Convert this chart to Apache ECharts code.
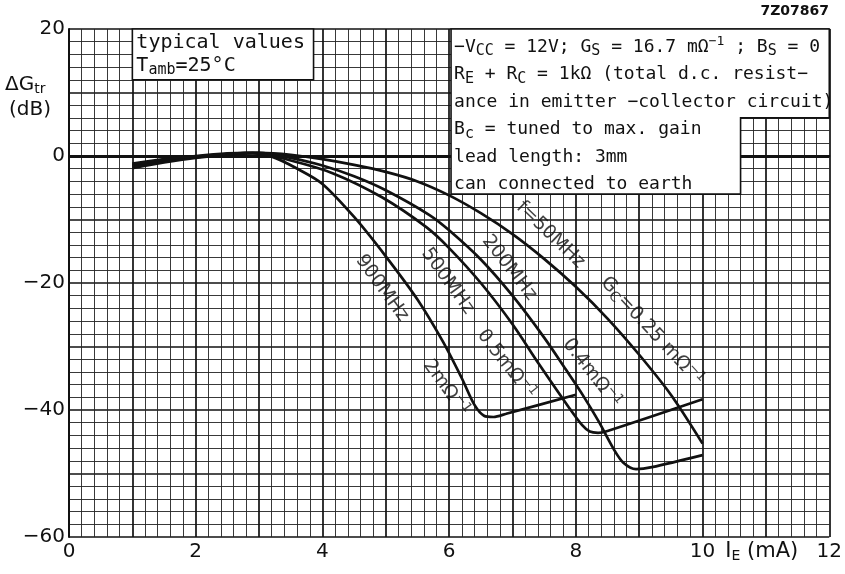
<!DOCTYPE html>
<html><head><meta charset="utf-8">
<script src="https://cdn.jsdelivr.net/npm/echarts@6/dist/echarts.min.js"></script>
<style>html,body{margin:0;padding:0;background:#fff}#c{width:845px;height:574px}</style>
</head><body><div id="c"></div>
<script>
// ---- data ----
const xLabelTicks = [0, 2, 4, 6, 8, 10, 12];
const yLabelTicks = [20, 0, -20, -40, -60];
const f900 = [[1.0,-1.2],[1.5,-0.5],[2.0,0.0],[2.5,0.4],[2.8,0.5],[3.2,-0.1],[3.64,-2.2],[4.0,-4.4],[4.5,-9.6],[5.0,-15.8],[5.5,-22.6],[5.9,-29.2],[6.2,-35.0],[6.4,-39.2],[6.55,-40.9],[6.7,-41.1],[6.9,-40.6],[8.0,-37.6]];
const f500 = [[1.0,-1.4],[1.5,-0.6],[2.0,-0.1],[2.5,0.3],[2.9,0.5],[3.5,-0.7],[4.16,-2.7],[4.94,-6.5],[5.64,-11.2],[6.0,-14.5],[6.5,-20.0],[7.0,-26.5],[7.42,-32.8],[7.89,-39.6],[8.1,-42.4],[8.22,-43.4],[8.35,-43.6],[8.5,-43.3],[10.0,-38.3]];
const f200 = [[1.0,-1.6],[1.5,-0.8],[2.0,-0.2],[2.5,0.3],[3.0,0.5],[3.5,-0.3],[4.0,-1.5],[4.5,-3.2],[5.0,-5.4],[5.69,-9.3],[6.0,-11.7],[6.5,-16.3],[7.0,-22.0],[7.5,-28.6],[7.84,-33.6],[8.1,-37.5],[8.36,-41.8],[8.6,-46.2],[8.75,-48.3],[8.95,-49.3],[9.2,-49.0],[10.0,-47.1]];
const f50 = [[1.0,-1.9],[1.5,-1.0],[2.0,-0.3],[2.5,0.2],[3.0,0.5],[3.5,0.2],[4.0,-0.5],[4.5,-1.4],[5.0,-2.5],[5.5,-4.0],[6.0,-6.2],[6.5,-9.0],[7.0,-12.3],[7.5,-16.2],[8.0,-20.6],[8.5,-25.6],[9.0,-31.3],[9.5,-37.6],[10.0,-45.3]];
const curveLabels = ['f=50MHz', '200MHz', '500MHz', '900MHz', 'G{s|C}=0.25 mΩ{p|−1}', '0.4mΩ{p|−1}', '0.5mΩ{p|−1}', '2mΩ{p|−1}'];
const curveLabelAt = [[7.6,-12.4],[6.95,-17.6],[5.98,-19.7],[4.94,-20.8],[9.2,-27.6],[8.25,-34.2],[6.9,-32.8],[5.95,-36.5]];
const curveLabelAngle = [-44, -52, -54, -54, -47, -52, -52, -54];
const noteLeft = ['typical values', 'T{s|amb}=25°C'];
const noteRight = ['−V{s|CC} = 12V; G{s|S} = 16.7 mΩ{p|−1} ; B{s|S} = 0',
  'R{s|E} + R{s|C} = 1kΩ (total d.c. resist−',
  'ance in emitter −collector circuit)',
  'B{s|c} = tuned to max. gain',
  'lead length: 3mm',
  'can connected to earth'];

const FONT = 'DejaVu Sans';
const MONO = 'DejaVu Sans Mono';
const INK = '#111';
const richSans = {
  s: {fontSize: 14, fontFamily: FONT, color: INK, padding: [9, 0, 0, 0]},
  p: {fontSize: 13, fontFamily: FONT, color: INK, padding: [0, 0, 10, 0]}
};
const richMono = {
  s: {fontSize: 15, fontFamily: MONO, fill: INK, padding: [9, 0, 0, 0]},
  p: {fontSize: 13, fontFamily: MONO, fill: INK, padding: [0, 0, 10, 0]}
};

const chart = echarts.init(document.getElementById('c'), null, {renderer: 'canvas'});
function lineSeries(name, data, extra) {
  return Object.assign({
    name, type: 'line', data, showSymbol: false, smooth: 0.3,
    lineStyle: {color: INK, width: 2.7}, z: 5, silent: true
  }, extra || {});
}
const labelData = curveLabels.map((t, i) => ({
  value: curveLabelAt[i],
  label: {formatter: t, rotate: curveLabelAngle[i]}
}));
chart.setOption({
  animation: false,
  backgroundColor: '#fff',
  grid: {left: 69, right: 14, top: 29, bottom: 37},
  xAxis: {
    type: 'value', min: 0, max: 12, interval: 1,
    axisLine: {show: true, lineStyle: {color: INK, width: 2}},
    axisTick: {show: false},
    axisLabel: {
      fontFamily: FONT, fontSize: 20, color: INK, margin: 5,
      formatter: v => xLabelTicks.indexOf(v) >= 0 ? String(v) : ''
    },
    splitLine: {show: true, lineStyle: {color: INK, width: 1.7}},
    minorTick: {show: false, splitNumber: 5},
    minorSplitLine: {show: true, lineStyle: {color: '#222', width: 0.9}}
  },
  yAxis: {
    type: 'value', min: -60, max: 20, interval: 10,
    axisLine: {show: true, lineStyle: {color: INK, width: 2}},
    axisTick: {show: false},
    axisLabel: {
      fontFamily: FONT, fontSize: 20, color: INK, margin: 4,
      formatter: v => yLabelTicks.indexOf(v) >= 0 ? (v < 0 ? '−' + (-v) : String(v)) : ''
    },
    splitLine: {show: true, lineStyle: {color: INK, width: 1.7}},
    minorTick: {show: false, splitNumber: 5},
    minorSplitLine: {show: true, lineStyle: {color: '#222', width: 0.9}}
  },
  series: [
    lineSeries('50MHz', f50, {
      markLine: {silent: true, symbol: 'none', label: {show: false},
        lineStyle: {color: INK, width: 3, type: 'solid'}, data: [{yAxis: 0}]}
    }),
    lineSeries('200MHz', f200),
    lineSeries('500MHz', f500),
    lineSeries('900MHz', f900),
    {
      type: 'scatter', data: labelData, symbolSize: 0, z: 6, silent: true,
      label: {show: true, position: 'inside', fontFamily: FONT, fontSize: 19, color: INK, rich: richSans}
    }
  ]
});

// text boxes placed on the grid by data coordinates
const P = (x, y) => chart.convertToPixel({gridIndex: 0}, [x, y]);
const leftBox = [[1, 20], [3.86, 20], [3.86, 12], [1, 12]];
const rightBox = [[6.03, 20], [12, 20], [12, 6], [10.6, 6], [10.6, -6], [6.03, -6]];
const gfx = [];
gfx.push({type: 'polygon', shape: {points: leftBox.map(p => P(p[0], p[1]))},
  style: {fill: '#fff', stroke: INK, lineWidth: 1.6}, z: 100});
gfx.push({type: 'polygon', shape: {points: rightBox.map(p => P(p[0], p[1]))},
  style: {fill: '#fff', stroke: INK, lineWidth: 1.6}, z: 100});
const lb = P(1, 20);
noteLeft.forEach((t, i) => gfx.push({type: 'text', x: lb[0] + 4, y: lb[1] + 14 + i * 23, z: 101,
  style: {text: t, fontFamily: MONO, fontSize: 20, fill: INK, verticalAlign: 'middle', rich: richMono}}));
const rb = P(6.03, 20);
noteRight.forEach((t, i) => gfx.push({type: 'text', x: rb[0] + 3, y: rb[1] + 18 + i * 27.5, z: 101,
  style: {text: t, fontFamily: MONO, fontSize: 18, fill: INK, verticalAlign: 'middle', rich: richMono}}));
gfx.push({type: 'text', left: 5, top: 75, z: 101,
  style: {text: 'ΔG{s|tr}', fontFamily: FONT, fontSize: 20, fill: INK, rich: richSans}});
gfx.push({type: 'text', left: 9, top: 100, z: 101,
  style: {text: '(dB)', fontFamily: FONT, fontSize: 20, fill: INK}});
gfx.push({type: 'text', right: 16, top: 4, z: 101,
  style: {text: '7Z07867', fontFamily: FONT, fontSize: 14, fontWeight: 'bold', fill: INK}});
const xn = P(10.36, -60);
gfx.push({type: 'text', x: xn[0], y: xn[1] + 15, z: 101,
  style: {text: 'I{s|E} (mA)', fontFamily: FONT, fontSize: 21, fill: INK, verticalAlign: 'middle', rich: richSans}});
chart.setOption({graphic: gfx});
</script>
</body></html>
